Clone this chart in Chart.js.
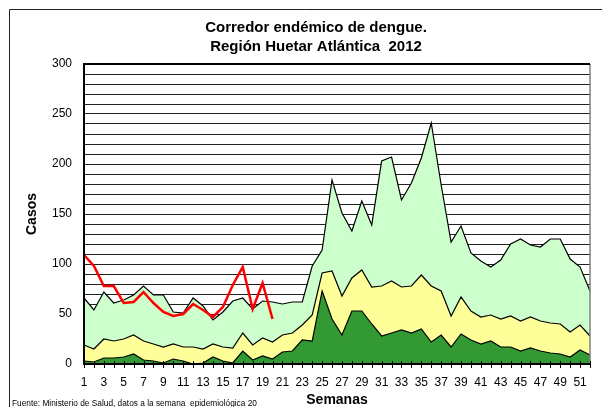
<!DOCTYPE html>
<html>
<head>
<meta charset="utf-8">
<script src="https://cdn.jsdelivr.net/npm/chart.js@4.4.1/dist/chart.umd.min.js"></script>
<style>
body { margin: 0; background: #fff; }
</style>
</head>
<body>
<canvas id="corredor" width="602" height="407"></canvas>
<script>

var semanas = ['1','2','3','4','5','6','7','8','9','10','11','12','13','14','15','16','17','18','19','20',
    '21','22','23','24','25','26','27','28','29','30','31','32','33','34','35','36','37','38','39','40',
    '41','42','43','44','45','46','47','48','49','50','51','52'];

// cuartil 1 (zona de exito)
var exito = [3,2,6,6,7,10,4,3,1,5,3,0,1,7,3,1,13,4,8,5,12,13,24,23,73,45,29,53,53,40,
    28,31,34,31,35,22,29,17,30,24,20,23,17,17,13,16,13,11,10,7,14,9];

// mediana (zona de seguridad)
var seguridad = [19,15,25,23,25,29,23,20,17,20,17,17,15,20,17,16,31,19,26,22,29,31,39,49,91,93,68,86,94,77,
    78,83,77,78,89,78,73,48,67,53,47,49,45,48,43,47,43,41,40,32,39,28];

// cuartil 3 (zona de alerta)
var alerta = [66,54,72,61,64,69,78,69,69,52,51,66,58,44,52,63,66,55,63,62,60,62,62,98,114,184,151,133,163,139,
    203,207,164,181,206,241,179,122,138,111,103,97,104,120,125,119,117,125,125,105,97,73];

// casos 2012 hasta la semana 20
var casos2012 = [109,98,78,78,61,62,72,61,52,48,50,60,54,47,57,79,97,55,81,45];

var titulo = ['Corredor endémico de dengue.', 'Región Huetar Atlántica  2012'];
var nota = 'Fuente: Ministerio de Salud, datos a la semana  epidemiológica 20';

var FUENTE = '"Liberation Sans", Arial, sans-serif';

function linea(ctx, x1, y1, x2, y2){
    ctx.beginPath();
    ctx.moveTo(x1, y1);
    ctx.lineTo(x2, y2);
    ctx.stroke();
}

var marco = {
    id: 'marco',
    beforeDraw: function(chart){
        var ctx = chart.ctx;
        ctx.save();
        ctx.fillStyle = '#fff';
        ctx.fillRect(0, 0, chart.width, chart.height);
        ctx.restore();
    },
    afterDatasetsDraw: function(chart){
        var ctx = chart.ctx;
        var a = chart.chartArea;
        var x = chart.scales.x;

        ctx.save();
        ctx.strokeStyle = '#808080';
        ctx.lineWidth = 1.5;
        linea(ctx, a.right, a.top, a.right, a.bottom);

        ctx.strokeStyle = '#000';
        ctx.lineWidth = 2;
        linea(ctx, a.left, a.top, a.right, a.top);
        linea(ctx, a.left, a.top - 1, a.left, a.bottom + 1);
        linea(ctx, a.left, a.bottom, a.right, a.bottom);

        // marcas de cada semana, cruzando el eje
        ctx.lineWidth = 1;
        for(var i=0; i<x.ticks.length; i++){
            var px = Math.round(x.getPixelForTick(i)) + 0.5;
            linea(ctx, px, a.bottom - 3, px, a.bottom + 4);
        }
        ctx.restore();
    },
    afterDraw: function(chart){
        var ctx = chart.ctx;
        ctx.save();

        ctx.strokeStyle = '#222';
        ctx.lineWidth = 1;
        ctx.beginPath();
        ctx.moveTo(9.5, chart.height);
        ctx.lineTo(9.5, 9.5);
        ctx.lineTo(chart.width, 9.5);
        ctx.stroke();

        ctx.fillStyle = '#000';
        ctx.font = 'bold 15px ' + FUENTE;
        ctx.textAlign = 'center';
        ctx.textBaseline = 'middle';
        ctx.fillText(titulo[0], 316, 28);
        ctx.fillText(titulo[1], 316, 46.5);

        ctx.font = '8.3px ' + FUENTE;
        ctx.textAlign = 'left';
        ctx.textBaseline = 'alphabetic';
        ctx.fillText(nota, 12, 405.5);

        ctx.restore();
    }
};

function area(label, data, color){
    return {
        label: label,
        data: data,
        backgroundColor: color,
        borderColor: '#000',
        borderWidth: 1.2,
        fill: 'origin',
        pointRadius: 0,
        tension: 0
    };
}

var ctx = document.getElementById('corredor').getContext('2d');
var myChart = new Chart(ctx, {
    type: 'line',
    data: {
        labels: semanas,
        datasets: [
            {
                label: '2012',
                data: casos2012,
                borderColor: '#ff0000',
                borderWidth: 2.5,
                fill: false,
                pointRadius: 0,
                tension: 0
            },
            area('Éxito', exito, '#339933'),
            area('Seguridad', seguridad, '#ffff99'),
            area('Alerta', alerta, '#ccffcc')
        ]
    },
    options: {
        responsive: false,
        animation: false,
        layout: {
            padding: { top: 64, right: 12, left: 0, bottom: 0 }
        },
        plugins: {
            legend: { display: false },
            tooltip: { enabled: false }
        },
        scales: {
            x: {
                offset: false,
                grid: { display: false, drawTicks: false },
                border: { display: false },
                ticks: {
                    autoSkip: false,
                    maxRotation: 0,
                    padding: 11,
                    color: '#000',
                    font: { family: FUENTE, size: 12 },
                    callback: function(v, i){ return i % 2 == 0 ? semanas[i] : ''; }
                },
                title: {
                    display: true,
                    text: 'Semanas',
                    color: '#000',
                    font: { family: FUENTE, size: 14, weight: 'bold', lineHeight: 1 },
                    padding: { top: 0, bottom: 0 }
                },
                afterFit: function(scale){ scale.height = 43; }
            },
            y: {
                min: 0,
                max: 300,
                grid: { color: '#222', lineWidth: 1, drawTicks: false },
                border: { display: false },
                ticks: {
                    stepSize: 10,
                    maxTicksLimit: 40,
                    autoSkip: false,
                    padding: 12,
                    color: '#000',
                    font: { family: FUENTE, size: 12 },
                    callback: function(v){ return v % 50 == 0 ? v : ''; }
                },
                title: {
                    display: true,
                    text: 'Casos',
                    color: '#000',
                    font: { family: FUENTE, size: 14, weight: 'bold', lineHeight: 1.2 },
                    padding: { top: 24, bottom: 0 }
                },
                afterFit: function(scale){ scale.width = 84; }
            }
        }
    },
    plugins: [marco]
});
</script>
</body>
</html>
